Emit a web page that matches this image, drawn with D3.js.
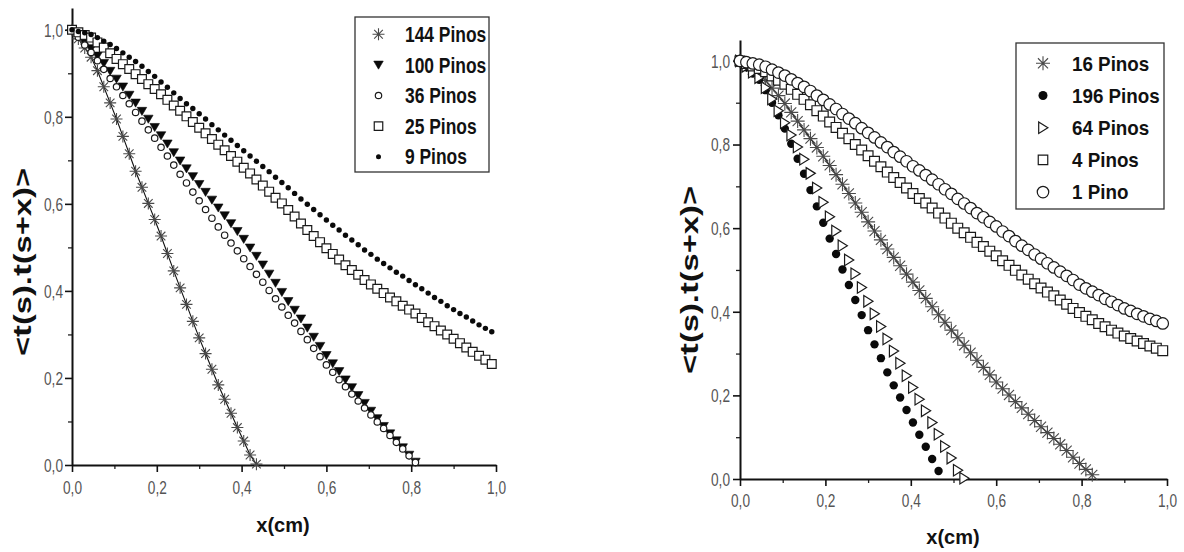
<!DOCTYPE html>
<html><head><meta charset="utf-8">
<script src="https://cdn.jsdelivr.net/npm/d3@7"></script>
<style>body{margin:0;background:#fff}svg{display:block}</style>
</head><body>
<svg id="c" width="1184" height="552"></svg>
<script>
// ---------- data ----------
const X = [0,.015,.03,.045,.06,.075,.09,.105,.12,.135,.15,.165,.18,.195,.21,.225,.24,.255,.27,.285,
.3,.315,.33,.345,.36,.375,.39,.405,.42,.435,.45,.465,.48,.495,.51,.525,.54,.555,.57,.585,
.6,.615,.63,.645,.66,.675,.69,.705,.72,.735,.75,.765,.78,.795,.81,.825,.84,.855,.87,.885,
.9,.915,.93,.945,.96,.975,.99];

const tickValues = [0, 0.2, 0.4, 0.6, 0.8, 1.0];
const tickLabels = ["0,0", "0,2", "0,4", "0,6", "0,8", "1,0"];
const minorTicks = [0.1, 0.3, 0.5, 0.7, 0.9];

const leftNames = ["144 Pinos", "100 Pinos", "36 Pinos", "25 Pinos", "9 Pinos"];
const rightNames = ["16 Pinos", "196 Pinos", "64 Pinos", "4 Pinos", "1 Pino"];

const y144 = [1.000,.979,.958,.937,.906,.869,.832,.795,.755,.715,
.675,.638,.601,.564,.526,.486,.446,.407,.369,.330,
.292,.256,.220,.184,.151,.119,.086,.055,.023,.002];
const y100 = [1.000,.986,.971,.957,.940,.923,.905,.887,.869,.850,
.832,.813,.795,.776,.757,.738,.718,.699,.681,.663,
.645,.627,.609,.591,.573,.555,.537,.519,.499,.480,
.460,.439,.418,.397,.376,.356,.336,.315,.294,.273,
.252,.233,.215,.196,.178,.160,.142,.124,.107,.089,
.072,.056,.040,.023,.007];
const y36 = [1.000,.983,.965,.948,.929,.909,.888,.869,.849,.830,
.810,.790,.770,.751,.730,.710,.689,.668,.648,.627,
.607,.587,.567,.547,.528,.510,.492,.474,.456,.438,
.420,.401,.382,.363,.344,.326,.307,.288,.268,.249,
.230,.213,.196,.180,.163,.147,.131,.115,.099,.084,
.068,.052,.037,.021,.006];
const y25 = [1.000,.994,.988,.982,.971,.959,.946,.933,.921,.910,
.898,.887,.875,.864,.852,.839,.826,.814,.801,.788,
.775,.762,.749,.736,.723,.710,.697,.683,.670,.656,
.642,.628,.614,.601,.586,.571,.555,.540,.526,.512,
.498,.485,.472,.459,.448,.437,.425,.415,.405,.395,
.385,.376,.366,.357,.348,.338,.328,.319,.309,.300,
.290,.280,.270,.260,.251,.242,.232];
const y9 = [1.000,.996,.993,.989,.982,.974,.966,.957,.947,.937,
.927,.916,.904,.893,.880,.868,.855,.842,.830,.819,
.807,.795,.782,.770,.758,.746,.734,.722,.710,.698,
.686,.674,.661,.649,.637,.624,.611,.599,.587,.575,
.563,.551,.540,.528,.517,.506,.494,.484,.473,.463,
.453,.443,.434,.424,.414,.405,.395,.385,.376,.366,
.357,.348,.340,.331,.322,.314,.306];

const y16 = [1.000,.990,.979,.969,.953,.935,.917,.898,.877,.856,
.835,.814,.793,.772,.750,.728,.705,.683,.660,.638,
.615,.593,.572,.550,.530,.510,.490,.471,.451,.432,
.412,.393,.375,.356,.338,.320,.302,.284,.267,.249,
.232,.216,.201,.185,.170,.155,.140,.125,.111,.097,
.083,.068,.052,.037,.023,.010];
const y196 = [1.000,.985,.970,.955,.930,.900,.870,.838,.802,.766,
.730,.691,.652,.613,.575,.538,.501,.464,.428,.392,
.356,.322,.289,.255,.224,.195,.165,.135,.106,.077,
.048,.019];
const y64 = [1.000,.987,.973,.960,.936,.909,.881,.852,.823,.794,
.765,.731,.696,.662,.627,.593,.558,.524,.491,.458,
.425,.395,.365,.335,.306,.277,.247,.219,.191,.163,
.135,.107,.078,.050,.021,.002];
const y4 = [1.000,.994,.988,.982,.974,.964,.954,.944,.932,.920,
.908,.895,.881,.868,.854,.841,.827,.814,.800,.787,
.773,.760,.747,.734,.721,.709,.696,.683,.671,.660,
.648,.636,.624,.612,.600,.589,.578,.566,.556,.545,
.534,.522,.511,.499,.488,.478,.467,.457,.447,.438,
.428,.418,.408,.398,.389,.381,.372,.364,.356,.349,
.342,.336,.330,.324,.318,.313,.307];
const y1 = [1.000,.997,.994,.991,.986,.979,.972,.965,.956,.947,
.938,.928,.917,.907,.896,.885,.873,.862,.851,.839,
.828,.817,.805,.794,.782,.771,.760,.748,.738,.727,
.716,.705,.693,.682,.670,.659,.648,.636,.626,.615,
.604,.592,.581,.569,.558,.548,.537,.527,.516,.506,
.496,.486,.476,.465,.456,.448,.440,.431,.424,.416,
.408,.402,.395,.389,.383,.378,.372];

// ---------- drawing ----------
const svg = d3.select("#c");
const FONT = "'Liberation Sans', Arial, Helvetica, sans-serif";

function markerPath(type, s) {
  const h = s / 2;
  switch (type) {
    case "square": return `M${-h},${-h}H${h}V${h}H${-h}Z`;
    case "triDown": return `M${-h},${-h*0.8}L${h},${-h*0.8}L0,${h*0.9}Z`;
    case "triRight": return `M${-h*0.75},${-h}L${h*0.85},0L${-h*0.75},${h}Z`;
    case "star": { const d = h * 0.72; return `M0,${-h}V${h}M${-h},0H${h}M${-d},${-d}L${d},${d}M${-d},${d}L${d},${-d}`; }
  }
  return "";
}

function drawMarker(g, type, x, y, s) {
  if (type === "circle" || type === "disc") {
    const c = g.append("circle").attr("cx", x).attr("cy", y).attr("r", s / 2);
    if (type === "circle") c.attr("fill", "#fff").attr("stroke", "#1a1a1a").attr("stroke-width", 1.2);
    else c.attr("fill", "#0a0a0a");
  } else {
    const p = g.append("path").attr("transform", `translate(${x},${y})`).attr("d", markerPath(type, s));
    if (type === "star") p.attr("fill", "none").attr("stroke", "#4a4a4a").attr("stroke-width", 1.1);
    else if (type === "triDown") p.attr("fill", "#0a0a0a").attr("stroke", "#0a0a0a").attr("stroke-width", 0.6);
    else p.attr("fill", "#fff").attr("stroke", "#1a1a1a").attr("stroke-width", 1.2);
  }
}

function panel(cfg) {
  const x = d3.scaleLinear([0, 1], cfg.xr);
  const y = d3.scaleLinear([0, 1.05], cfg.yr);
  const g = svg.append("g");
  const y0 = cfg.yr[0], x0 = cfg.xr[0];

  // minor ticks
  g.append("g").attr("transform", `translate(0,${y0})`)
    .call(d3.axisBottom(x).tickValues(minorTicks).tickSize(4).tickSizeOuter(0).tickFormat(""))
    .call(a => a.select(".domain").remove())
    .call(a => a.selectAll("line").attr("stroke", "#222").attr("stroke-width", 1.3));
  g.append("g").attr("transform", `translate(${x0},0)`)
    .call(d3.axisLeft(y).tickValues(minorTicks).tickSize(4).tickSizeOuter(0).tickFormat(""))
    .call(a => a.select(".domain").remove())
    .call(a => a.selectAll("line").attr("stroke", "#222").attr("stroke-width", 1.3));

  // major axes
  const sx = 0.76;
  g.append("g").attr("transform", `translate(0,${y0})`)
    .call(d3.axisBottom(x).tickValues(tickValues).tickSize(7).tickSizeOuter(0)
      .tickFormat((d, i) => tickLabels[i]))
    .call(a => a.select(".domain").attr("stroke", "#111").attr("stroke-width", 2))
    .call(a => a.selectAll("line").attr("stroke", "#111").attr("stroke-width", 1.6))
    .call(a => a.selectAll("text").attr("y", cfg.xlabOff).attr("dy", "0")
      .attr("transform", `scale(${sx},1)`).attr("fill", "#555")
      .style("font-family", FONT).style("font-size", "18px"));
  g.append("g").attr("transform", `translate(${x0},0)`)
    .call(d3.axisLeft(y).tickValues(tickValues).tickSize(7).tickSizeOuter(0)
      .tickFormat((d, i) => tickLabels[i]))
    .call(a => a.select(".domain").attr("stroke", "#111").attr("stroke-width", 2))
    .call(a => a.selectAll("line").attr("stroke", "#111").attr("stroke-width", 1.6))
    .call(a => a.selectAll("text").attr("x", -cfg.ylabGap / sx).attr("dy", "0").attr("y", 6.4)
      .attr("transform", `scale(${sx},1)`).attr("fill", "#555")
      .style("font-family", FONT).style("font-size", "18px"));

  // series
  cfg.series.forEach(s => {
    const pts = s.values.map((v, i) => [X[i], v]);
    const sg = g.append("g");
    if (s.line) {
      sg.append("path").attr("d", d3.line().x(d => x(d[0])).y(d => y(d[1]))(pts))
        .attr("fill", "none").attr("stroke", "#111").attr("stroke-width", 1.1);
    }
    pts.forEach(d => drawMarker(sg, s.type, x(d[0]), y(d[1]), s.size));
  });

  // legend
  const L = cfg.legend;
  g.append("rect").attr("x", L.x).attr("y", L.y).attr("width", L.w).attr("height", L.h)
    .attr("fill", "#fff").attr("stroke", "#333").attr("stroke-width", 1.3);
  cfg.series.forEach((s, i) => {
    const cy = L.first + i * L.step;
    drawMarker(g, s.type, L.symX, cy, s.legSize);
    g.append("text").attr("transform", `translate(${L.textX},${cy + L.fs * 0.36}) scale(${L.sx},1)`)
      .attr("font-family", FONT).attr("font-weight", "bold").attr("font-size", L.fs)
      .attr("fill", "#111").text(s.name);
  });

  // axis titles
  g.append("text").attr("x", cfg.xTitle[0]).attr("y", cfg.xTitle[1])
    .attr("text-anchor", "middle").attr("font-family", FONT).attr("font-weight", "bold")
    .attr("font-size", 20).attr("fill", "#111").text("x(cm)");
  const yt = g.append("text")
    .attr("transform", `translate(${cfg.yTitle[0]},${cfg.yTitle[1]}) rotate(-90)`)
    .attr("text-anchor", "middle").attr("font-family", FONT).attr("font-weight", "bold")
    .attr("font-size", 24).attr("fill", "#111")
    .attr("textLength", cfg.yTitle[2]).attr("lengthAdjust", "spacingAndGlyphs");
  ["<", "t", "(s).", "t", "(s+x)>"].forEach(part => {
    const ts = yt.append("tspan").text(part);
    if (part === "t") ts.attr("font-weight", 900).attr("font-size", 26);
  });
}

panel({
  xr: [72, 496], yr: [465, 8], xlabOff: 29, ylabGap: 9,
  xTitle: [283, 532], yTitle: [31, 262, 188],
  series: [
    {name: leftNames[0], values: y144, type: "star", size: 12, legSize: 12, line: true},
    {name: leftNames[1], values: y100, type: "triDown", size: 9.5, legSize: 9.5},
    {name: leftNames[2], values: y36, type: "circle", size: 6.4, legSize: 6.4},
    {name: leftNames[3], values: y25, type: "square", size: 8.8, legSize: 8.5},
    {name: leftNames[4], values: y9, type: "disc", size: 5.4, legSize: 5},
  ],
  legend: {x: 355, y: 17, w: 134, h: 155, first: 34.3, step: 30.6, symX: 378.5, textX: 405, fs: 21.5, sx: 0.81}
});

panel({
  xr: [740, 1167], yr: [479, 40], xlabOff: 28, ylabGap: 10,
  xTitle: [953, 544], yTitle: [698, 280, 188],
  series: [
    {name: rightNames[0], values: y16, type: "star", size: 14, legSize: 14, line: true},
    {name: rightNames[1], values: y196, type: "disc", size: 8.4, legSize: 9},
    {name: rightNames[2], values: y64, type: "triRight", size: 11.5, legSize: 11.5},
    {name: rightNames[3], values: y4, type: "square", size: 9.8, legSize: 9.5},
    {name: rightNames[4], values: y1, type: "circle", size: 11.5, legSize: 11.5}
  ],
  legend: {x: 1016, y: 43, w: 148, h: 166, first: 63.3, step: 32.2, symX: 1043, textX: 1072, fs: 20, sx: 0.94}
});
</script>
</body></html>
